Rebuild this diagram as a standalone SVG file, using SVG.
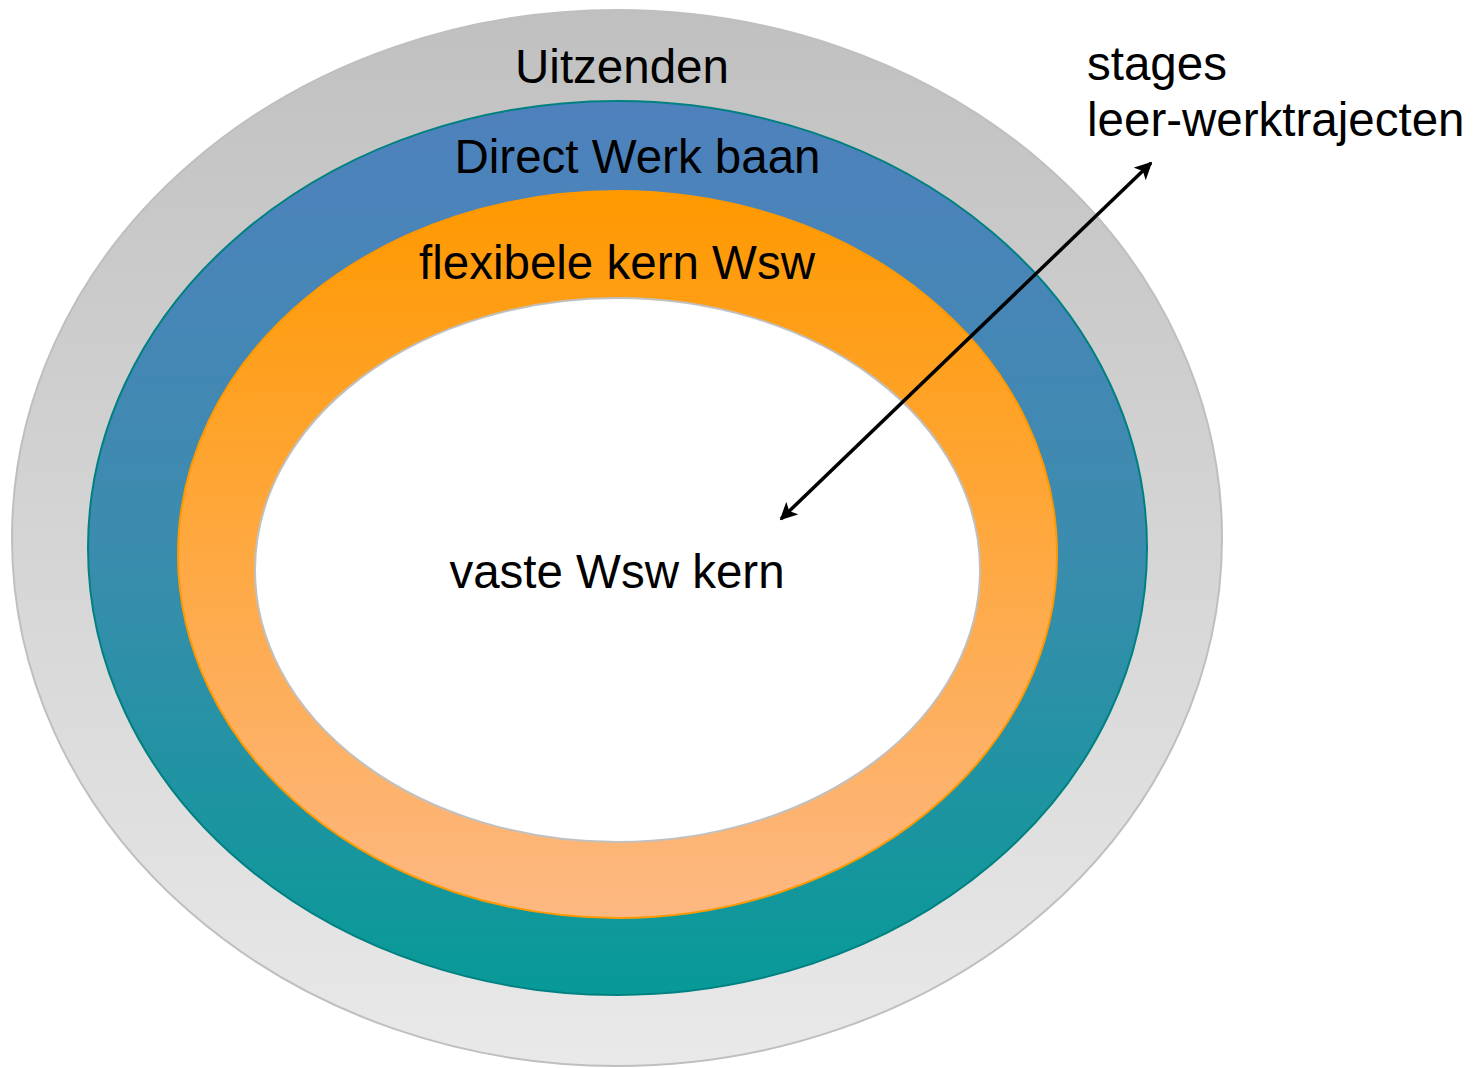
<svg xmlns="http://www.w3.org/2000/svg" width="1475" height="1068" viewBox="0 0 1475 1068">
<defs>
<linearGradient id="gGray" x1="0" y1="0" x2="0" y2="1"><stop offset="0" stop-color="#c0c0c0"/><stop offset="1" stop-color="#e9e9e9"/></linearGradient>
<linearGradient id="gBlue" x1="0" y1="0" x2="0" y2="1"><stop offset="0" stop-color="#4f81bd"/><stop offset="0.5" stop-color="#3b8cae"/><stop offset="1" stop-color="#079a97"/></linearGradient>
<linearGradient id="gOrange" x1="0" y1="0" x2="0" y2="1"><stop offset="0" stop-color="#ff9900"/><stop offset="1" stop-color="#fdb883"/></linearGradient>
<marker id="ah" viewBox="0 0 10 10" refX="9" refY="5" markerWidth="5" markerHeight="5" orient="auto-start-reverse" markerUnits="strokeWidth"><path d="M0,0 L10,5 L0,10 L2.5,5 z" fill="#000"/></marker>
<style>
text{font-family:"Liberation Sans",Arial,sans-serif;font-size:47.5px;fill:#000}
.c{text-anchor:middle}
</style>
</defs>
<g id="uitzenden"><ellipse cx="617" cy="538" rx="605" ry="528" fill="url(#gGray)" stroke="#bfbfbf" stroke-width="2"/><text class="c" x="622" y="83">Uitzenden</text></g>
<g id="direct-werk"><ellipse cx="617.5" cy="548" rx="529.5" ry="447" fill="url(#gBlue)" stroke="#008080" stroke-width="2"/><text class="c" x="637.5" y="173">Direct Werk baan</text></g>
<g id="flexibele-kern"><ellipse cx="617.5" cy="554.5" rx="439.5" ry="363.5" fill="url(#gOrange)" stroke="#ff9900" stroke-width="2"/><text class="c" x="617" y="279">flexibele kern Wsw</text></g>
<g id="vaste-kern"><ellipse cx="617.5" cy="570" rx="362.5" ry="272" fill="#fff" stroke="#c0c0c0" stroke-width="2"/><text class="c" x="617" y="588">vaste Wsw kern</text></g>
<g id="stages"><text x="1087" y="80">stages</text><text x="1087" y="136">leer-werktrajecten</text></g>
<g id="connectors"><line x1="781" y1="519" x2="1151" y2="163" stroke="#000" stroke-width="3.5" marker-start="url(#ah)" marker-end="url(#ah)"/></g>
</svg>
